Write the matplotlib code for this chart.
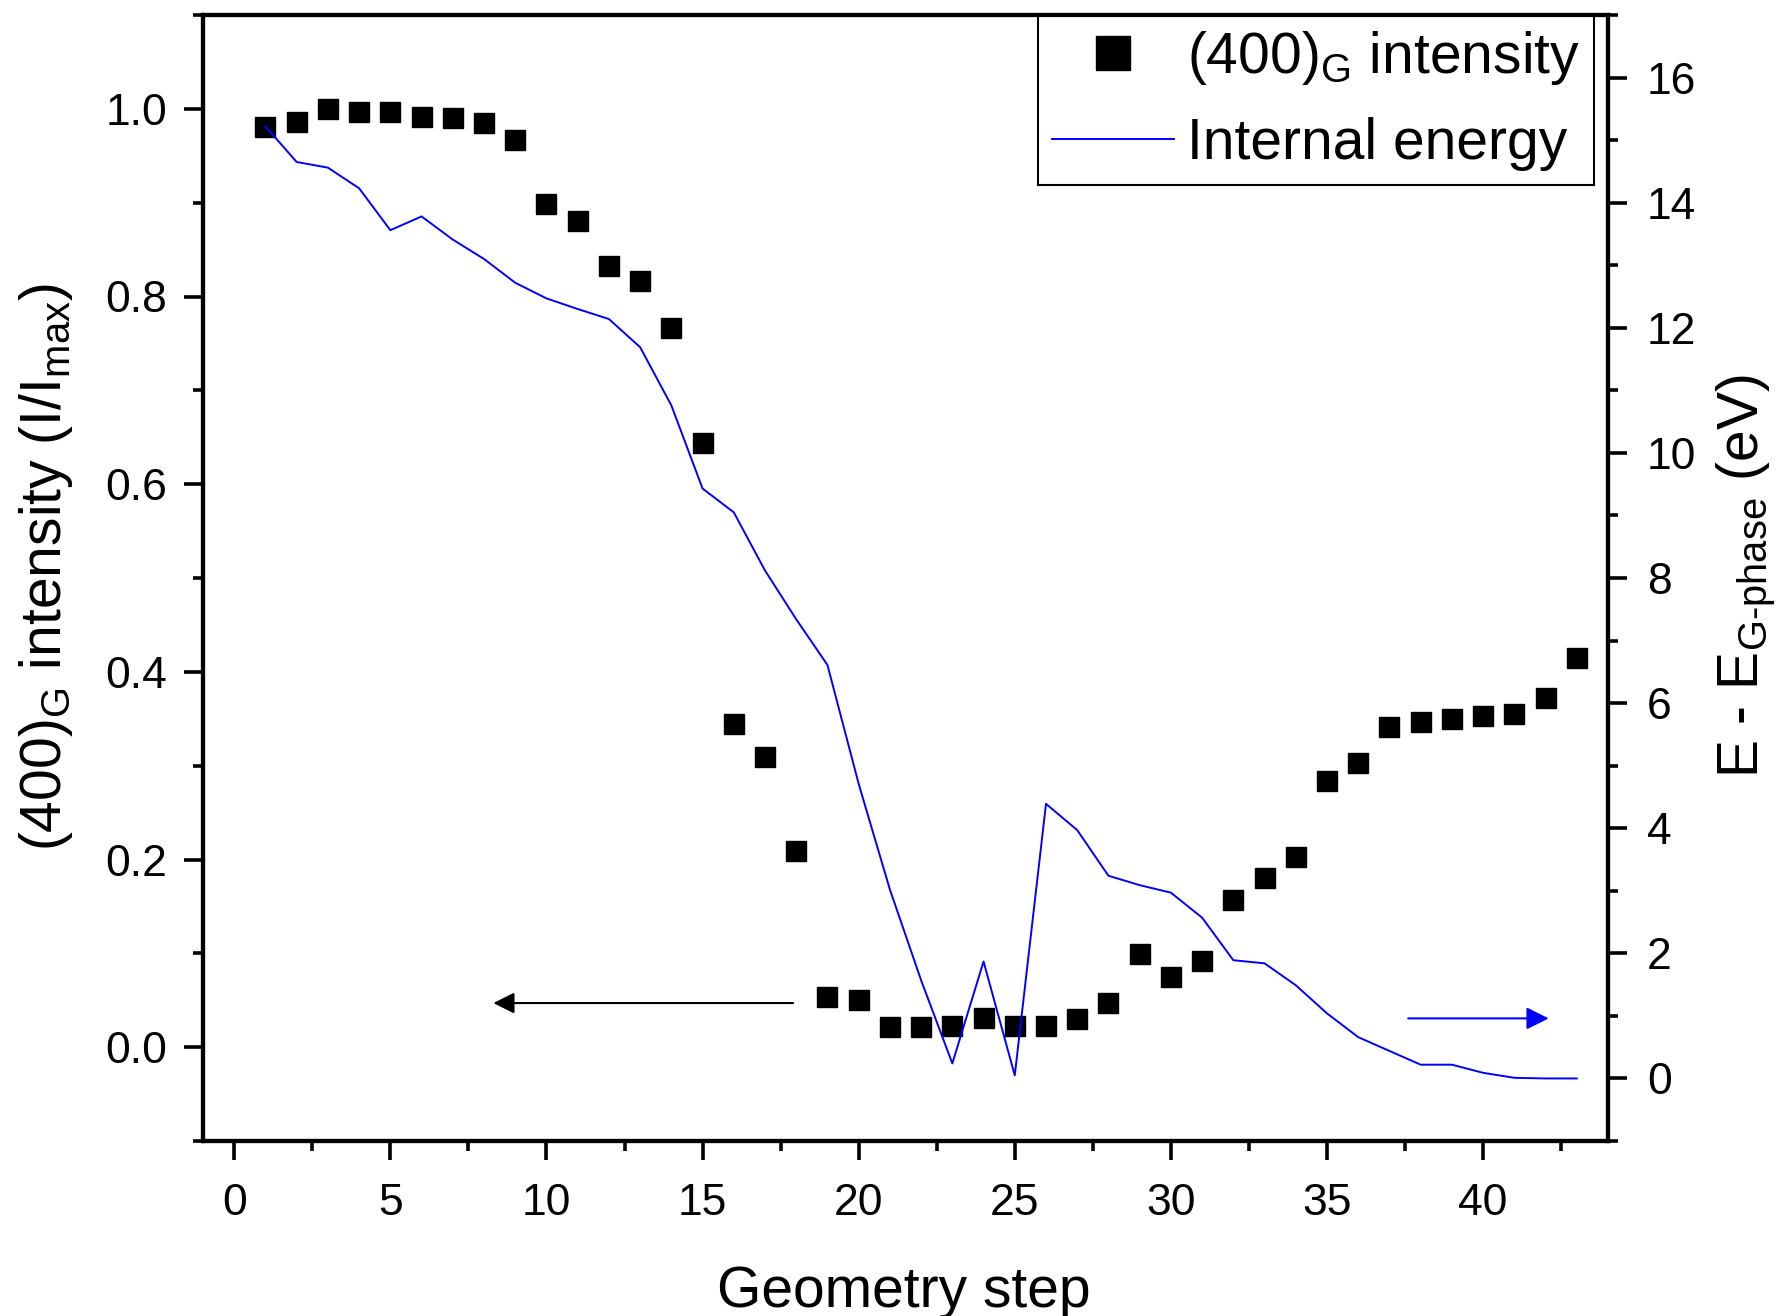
import matplotlib
matplotlib.use("Agg")
import matplotlib.pyplot as plt
from matplotlib.ticker import MultipleLocator

plt.rcParams['font.family'] = ['Liberation Sans', 'DejaVu Sans']
plt.rcParams['mathtext.fontset'] = 'custom'
plt.rcParams['mathtext.rm'] = 'Liberation Sans'
plt.rcParams['mathtext.it'] = 'Liberation Sans:italic'
plt.rcParams['mathtext.default'] = 'regular'

steps = list(range(1, 44))
intensity = [0.981, 0.986, 1.000, 0.997, 0.997, 0.991, 0.990, 0.985, 0.967, 0.899,
             0.880, 0.832, 0.816, 0.766, 0.644, 0.344, 0.309, 0.209, 0.053, 0.050,
             0.022, 0.022, 0.023, 0.031, 0.023, 0.023, 0.030, 0.047, 0.099, 0.075,
             0.092, 0.157, 0.180, 0.203, 0.284, 0.303, 0.341, 0.347, 0.350, 0.353,
             0.355, 0.372, 0.415]
energy = [15.22, 14.65, 14.56, 14.23, 13.56, 13.78, 13.41, 13.10, 12.72, 12.47,
          12.30, 12.14, 11.69, 10.76, 9.43, 9.05, 8.12, 7.34, 6.61, 4.71,
          3.02, 1.57, 0.24, 1.87, 0.05, 4.39, 3.97, 3.24, 3.09, 2.97,
          2.57, 1.89, 1.84, 1.49, 1.04, 0.66, 0.44, 0.22, 0.22, 0.09,
          0.01, 0.0, 0.0]

W, H = 1789, 1316
fig = plt.figure(figsize=(W / 100, H / 100), dpi=100)
L, R, T, B = 203, 1608, 15, 1141
ax = fig.add_axes([L / W, 1 - B / H, (R - L) / W, (B - T) / H])
ax2 = ax.twinx()

sq, = ax.plot(steps, intensity, linestyle='none', marker='s', markersize=15,
              color='black', label=r'(400)$_{G}$ intensity', zorder=3)
ln, = ax2.plot(steps, energy, color='#0000ff', lw=1.4, label='Internal energy')

ax.set_xlim(-1, 44)
ax.set_ylim(-0.1, 1.1)
ax2.set_ylim(-1, 17)

ax.xaxis.set_major_locator(MultipleLocator(5))
ax.xaxis.set_minor_locator(MultipleLocator(2.5))
ax.yaxis.set_major_locator(MultipleLocator(0.2))
ax.yaxis.set_minor_locator(MultipleLocator(0.1))
ax2.yaxis.set_major_locator(MultipleLocator(2))
ax2.yaxis.set_minor_locator(MultipleLocator(1))

for a in (ax, ax2):
    for s in a.spines.values():
        s.set_linewidth(3)
    a.tick_params(which='major', length=14, width=2.6, labelsize=32, direction='out')
    a.tick_params(which='minor', length=7, width=2.6, direction='out')
ax.tick_params(axis='y', pad=12)
ax.tick_params(axis='x', pad=16)
ax2.tick_params(axis='y', pad=14)
ax.tick_params(top=False, right=False)

# arrows
ax.annotate('', xy=(8.3, 0.047), xytext=(17.9, 0.047),
            arrowprops=dict(arrowstyle='-|>', color='black', lw=1.5,
                            mutation_scale=32, shrinkA=0, shrinkB=0))
ax2.annotate('', xy=(42.1, 0.96), xytext=(37.6, 0.96),
             arrowprops=dict(arrowstyle='-|>', color='#0000ff', lw=1.5,
                             mutation_scale=34, shrinkA=0, shrinkB=0))

leg = ax.legend(handles=[sq, ln], loc='upper right', bbox_to_anchor=(0.99, 1.0),
                borderaxespad=0, fontsize=41, frameon=True, fancybox=False,
                framealpha=1, edgecolor='black', markerscale=1.6,
                handlelength=2.15, handletextpad=0.22, borderpad=0.25,
                labelspacing=0.52)
leg.get_frame().set_linewidth(1.5)
leg.set_zorder(10)

fig.text(46 / W, 1 - 567 / H, r'(400)$_{G}$ intensity (I/I$_{max}$)', rotation=90,
         ha='center', va='center', fontsize=41)
fig.text(1746 / W, 1 - 576 / H, r'E - E$_{G\text{-}phase}$ (eV)', rotation=90,
         ha='center', va='center', fontsize=41)
fig.text(904 / W, 9 / H, 'Geometry step', ha='center', va='baseline', fontsize=41)

fig.savefig('out.png', dpi=100)
